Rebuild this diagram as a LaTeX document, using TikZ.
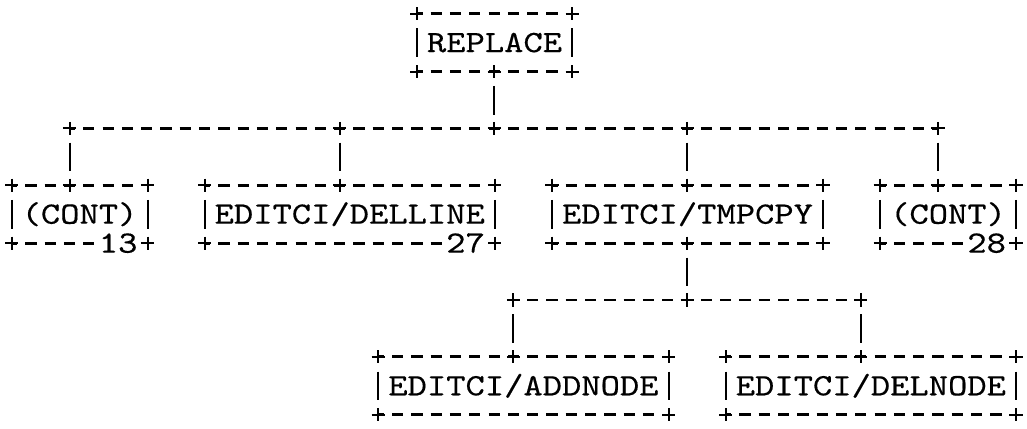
\documentclass[tikz,border=0pt]{standalone}
\usepackage{fontspec}
\newfontfamily\asciifont{lmmono10-regular.otf}[FakeStretch=1.186, FakeBold=0.4]
\usepackage{tikz}
\usetikzlibrary{calc}
\usetikzlibrary{positioning}

\tikzset{
	box/.style={font=\asciifont\fontsize{15.5}{15.5}\selectfont, inner sep=0pt, text height=9.47pt, text depth=0pt, minimum height=28.6pt},
	tag/.style={font=\asciifont\fontsize{15.5}{15.5}\selectfont, inner sep=0pt, text height=9.47pt, text depth=0pt, fill=white},
	rule/.style={line width=1.4pt, dash pattern=on 5.6pt off 4.05pt, dash phase=2.8pt},
	bar/.style={line width=1pt, dash pattern=on 14.3pt off 14.3pt, dash phase=21.45pt},
	cross/.pic={\draw[line width=1pt] (-0.34,0) -- (0.34,0) (0,-0.23) -- (0,0.23);}
}

\begin{document}
\begin{tikzpicture}[x=9.65pt, y=-14.3pt]
				\useasboundingbox (-0.6218,-0.4895) rectangle (52.59,14.476);
				
				\node[box, minimum width=77.2pt] (replace) at (25,1) {REPLACE};
				\node[box, minimum width=67.55pt] (cont1) at (3.5,7) {(CONT)};
				\node[box, minimum width=144.75pt] (delline) at (17.5,7) {EDITCI/DELLINE};
				\node[box, minimum width=135.1pt] (tmpcpy) at (35,7) {EDITCI/TMPCPY};
				\node[box, minimum width=67.55pt] (cont2) at (48.5,7) {(CONT)};
				\node[box, minimum width=144.75pt] (addnode) at (26.5,13) {EDITCI/ADDNODE};
				\node[box, minimum width=144.75pt] (delnode) at (44.5,13) {EDITCI/DELNODE};
				
				\foreach \b in {replace,cont1,delline,tmpcpy,cont2,addnode,delnode}{
					\draw[rule] (\b.north west) -- ($(\b.north east)+(-0.5,0)$);
					\draw[rule] (\b.south west) -- ($(\b.south east)+(-0.5,0)$);
					\draw[line width=1pt] ($(\b.west)+(0,-0.5)$) -- ($(\b.west)+(0,0.5)$);
					\draw[line width=1pt] ($(\b.east)+(0,-0.5)$) -- ($(\b.east)+(0,0.5)$);
					\foreach \c in {north west,north east,south west,south east}
						\pic at (\b.\c) {cross};
				}
				
				\coordinate (replace-j) at ($(replace.south west)+(4,0)$);
				\coordinate (cont1-j) at ($(cont1.north west)+(3,0)$);
				\coordinate (delline-j) at ($(delline.north west)+(7,0)$);
				\coordinate (tmpcpy-j) at ($(tmpcpy.north west)+(7,0)$);
				\coordinate (tmpcpy-k) at ($(tmpcpy.south west)+(7,0)$);
				\coordinate (cont2-j) at ($(cont2.north west)+(3,0)$);
				\coordinate (addnode-j) at ($(addnode.north west)+(7,0)$);
				\coordinate (delnode-j) at ($(delnode.north west)+(7,0)$);
				\coordinate (bus1) at (0,4);
				\coordinate (bus2) at (0,10);
				
				\draw[rule] (cont1-j |- bus1) -- (cont2-j |- bus1);
				\draw[rule] (addnode-j |- bus2) -- (delnode-j |- bus2);
				
				\draw[bar] (replace-j) -- (replace-j |- bus1);
				\draw[bar] (cont1-j |- bus1) -- (cont1-j);
				\draw[bar] (delline-j |- bus1) -- (delline-j);
				\draw[bar] (tmpcpy-j |- bus1) -- (tmpcpy-j);
				\draw[bar] (cont2-j |- bus1) -- (cont2-j);
				\draw[bar] (tmpcpy-k) -- (tmpcpy-k |- bus2);
				\draw[bar] (addnode-j |- bus2) -- (addnode-j);
				\draw[bar] (delnode-j |- bus2) -- (delnode-j);
				
				\foreach \j in {replace-j,cont1-j,delline-j,tmpcpy-j,tmpcpy-k,cont2-j,addnode-j,delnode-j}
					\pic at (\j) {cross};
				\foreach \j in {replace-j,cont1-j,delline-j,tmpcpy-j,cont2-j}
					\pic at (\j |- bus1) {cross};
				\foreach \j in {tmpcpy-k,addnode-j,delnode-j}
					\pic at (\j |- bus2) {cross};
				
				\node[tag, left=4.825pt of cont1.south east] (cont1-n) {13};
				\node[tag, left=4.825pt of delline.south east] (delline-n) {27};
				\node[tag, left=4.825pt of cont2.south east] (cont2-n) {28};
			\end{tikzpicture}
\end{document}
